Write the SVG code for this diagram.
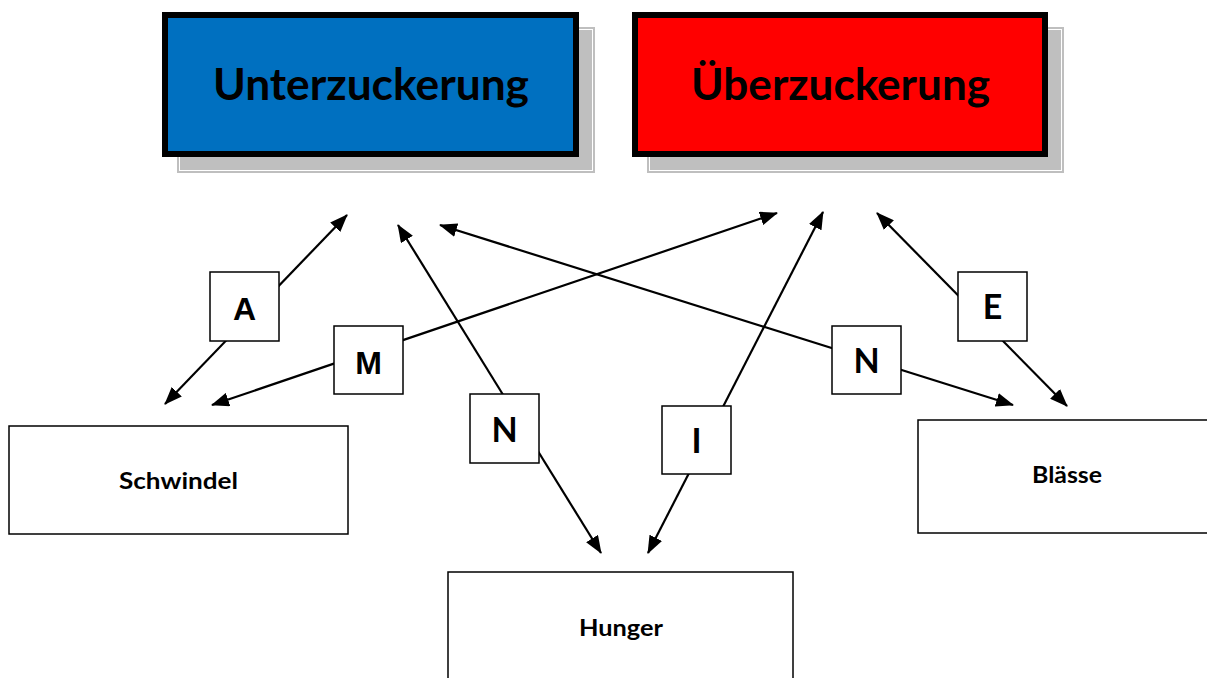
<svg xmlns="http://www.w3.org/2000/svg" width="1207" height="678" viewBox="0 0 1207 678">
<defs>
<marker id="ah" viewBox="0 0 18 14" refX="17" refY="7" markerWidth="18" markerHeight="14" markerUnits="userSpaceOnUse" orient="auto-start-reverse">
<path d="M0,0 L18,7 L0,14 z" fill="#000"/>
</marker>
<style>
.title{stroke:#000;stroke-width:6}
.ttl{font-family:Lato,"Open Sans",sans-serif;font-weight:bold;font-size:43px;fill:#000;text-anchor:middle}
.box{fill:#FFF;stroke:#000;stroke-width:1.5}
.lbl{font-family:Lato,"Open Sans",sans-serif;font-weight:bold;font-size:22px;fill:#000;text-anchor:middle}
.tag{fill:#FFF;stroke:#000;stroke-width:1.5}
.tagA{font-family:"Liberation Sans",Arial,sans-serif;font-weight:bold;font-size:32px;fill:#000;text-anchor:middle}
.tagC{font-family:Lato,"Open Sans",sans-serif;font-weight:bold;font-size:34px;fill:#000;text-anchor:middle}
.con{stroke:#000;stroke-width:2.2;fill:none;marker-start:url(#ah);marker-end:url(#ah)}
</style>
</defs>
<rect width="1207" height="678" fill="#FFF"/>

<g id="unterzuckerung">
<rect x="177" y="27" width="418" height="146" fill="#BFBFBF"/>
<rect x="179.5" y="29.5" width="413" height="141" fill="none" stroke="#FFF" stroke-width="1"/>
<rect class="title" x="165" y="15" width="411" height="139" fill="#0070C0"/>
<text class="ttl" x="371" y="100" textLength="316" lengthAdjust="spacingAndGlyphs">Unterzuckerung</text>
</g>

<g id="ueberzuckerung">
<rect x="647" y="27" width="417" height="146" fill="#BFBFBF"/>
<rect x="649.5" y="29.5" width="412" height="141" fill="none" stroke="#FFF" stroke-width="1"/>
<rect class="title" x="635" y="15" width="410" height="139" fill="#FF0000"/>
<text class="ttl" x="840.5" y="100" textLength="299" lengthAdjust="spacingAndGlyphs">Überzuckerung</text>
</g>

<g id="connectors">
<line class="con" x1="347" y1="215" x2="165" y2="404"/>
<line class="con" x1="212" y1="405" x2="777" y2="213"/>
<line class="con" x1="398" y1="225" x2="601" y2="553"/>
<line class="con" x1="440" y1="225" x2="1013" y2="405"/>
<line class="con" x1="823" y1="212" x2="648" y2="553"/>
<line class="con" x1="877" y1="213" x2="1067" y2="406"/>
</g>

<g id="tag-A"><rect class="tag" x="210" y="272" width="69" height="69"/><text class="tagA" x="244.5" y="320">A</text></g>
<g id="tag-M"><rect class="tag" x="334" y="326" width="69" height="68"/><text class="tagA" x="368.5" y="374">M</text></g>
<g id="tag-N1"><rect class="tag" x="470" y="394" width="69" height="69"/><text class="tagC" x="504.5" y="442">N</text></g>
<g id="tag-I"><rect class="tag" x="662" y="406" width="69" height="68"/><text class="tagC" x="696.5" y="453">I</text></g>
<g id="tag-E"><rect class="tag" x="958" y="272" width="69" height="69"/><text class="tagC" x="992.5" y="319">E</text></g>
<g id="tag-N2"><rect class="tag" x="832" y="326" width="69" height="68"/><text class="tagC" x="866.5" y="373">N</text></g>

<g id="schwindel">
<rect class="box" x="9" y="426" width="339" height="108"/>
<text class="lbl" x="178.5" y="489" textLength="119" lengthAdjust="spacingAndGlyphs">Schwindel</text>
</g>
<g id="hunger">
<rect class="box" x="448" y="572" width="345" height="120"/>
<text class="lbl" x="621" y="636" textLength="84" lengthAdjust="spacingAndGlyphs">Hunger</text>
</g>
<g id="blaesse">
<rect class="box" x="918" y="420" width="300" height="113"/>
<text class="lbl" x="1067" y="483" textLength="70" lengthAdjust="spacingAndGlyphs">Blässe</text>
</g>
</svg>
